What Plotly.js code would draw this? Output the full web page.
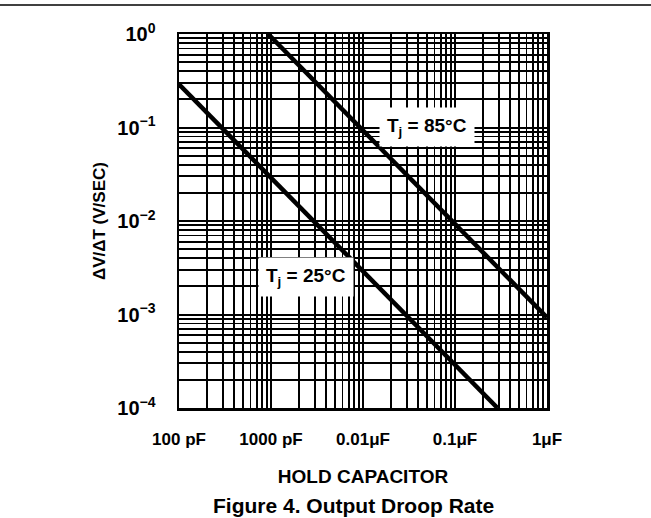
<!DOCTYPE html>
<html>
<head>
<meta charset="utf-8">
<script src="https://cdn.plot.ly/plotly-3.0.1.min.js"></script>
<style>html,body{margin:0;padding:0;background:#fff;}#chart{width:651px;height:518px;}</style>
</head>
<body>
<div id="chart"></div>
<script>
// Hold capacitor (F) and droop rate (V/s)
const cap25 = [1e-10, 2.9e-7];
const droop25 = [0.29, 1e-4];
const cap85 = [9.3e-10, 1e-6];
const droop85 = [1, 9.3e-4];

const xTickVals = [1e-10, 1e-9, 1e-8, 1e-7, 1e-6];
const xTickText = ['100 pF', '1000 pF', '0.01\u03BCF', '0.1\u03BCF', '1\u03BCF'];
const yTickVals = [1e-4, 1e-3, 1e-2, 1e-1, 1];
const yTickText = ['10<sup>\u22124</sup>', '10<sup>\u22123</sup>', '10<sup>\u22122</sup>', '10<sup>\u22121</sup>', '10<sup>0</sup>'];

const labels = [
  {text: 'T<sub>j</sub> = 25\u00B0C', x: 2.4e-9, y: 2.5e-3},
  {text: 'T<sub>j</sub> = 85\u00B0C', x: 5.0e-8, y: 0.102}
];

const FONT = '"Liberation Sans", Arial, sans-serif';

const traces = [
  {x: cap25, y: droop25, mode: 'lines', line: {color: '#000', width: 4.5}, hoverinfo: 'skip', showlegend: false},
  {x: cap85, y: droop85, mode: 'lines', line: {color: '#000', width: 4.5}, hoverinfo: 'skip', showlegend: false}
];

const axisCommon = {
  type: 'log',
  showline: true, mirror: true, linecolor: '#000', linewidth: 2.5,
  showgrid: true, gridcolor: '#000', gridwidth: 2,
  minor: {showgrid: true, dtick: 'D1', gridcolor: '#000', gridwidth: 1.8, ticks: ''},
  ticks: '', zeroline: false,
  tickfont: {family: FONT, size: 17, color: '#000', weight: 'bold'}
};

const layout = {
  width: 651, height: 518,
  margin: {l: 179, r: 104, t: 34, b: 110},
  paper_bgcolor: '#fff', plot_bgcolor: '#fff',
  showlegend: false,
  xaxis: Object.assign({}, axisCommon, {
    range: [-10, -6], tickmode: 'array', tickvals: xTickVals, ticktext: xTickText,
    ticklabelstandoff: 14,
    title: {text: 'HOLD CAPACITOR', font: {family: FONT, size: 19, color: '#000', weight: 'bold'}, standoff: 22}
  }),
  yaxis: Object.assign({}, axisCommon, {
    range: [-4, 0], tickmode: 'array', tickvals: yTickVals, ticktext: yTickText,
    ticklabelstandoff: 17,
    tickfont: {family: FONT, size: 20, color: '#000', weight: 'bold'},
    title: {text: '\u0394V/\u0394T (V/SEC)', font: {family: FONT, size: 17, color: '#000', weight: 'bold'}, standoff: 8}
  }),
  annotations: labels.map(l => ({
    text: l.text, x: Math.log10(l.x), y: Math.log10(l.y), xref: 'x', yref: 'y',
    showarrow: false, bgcolor: '#fff', borderpad: 7,
    font: {family: FONT, size: 19, color: '#000', weight: 'bold'}
  })).concat([{
    text: 'Figure 4. Output Droop Rate', xref: 'paper', yref: 'paper',
    x: 0.4755, y: -0.262, yanchor: 'middle', showarrow: false,
    font: {family: FONT, size: 21, color: '#000', weight: 'bold'}
  }]),
  shapes: [{
    type: 'line', xref: 'paper', yref: 'paper',
    x0: -0.49, x1: 1.29, y0: 1.0775, y1: 1.0775,
    line: {color: '#000', width: 1.5}
  }]
};

Plotly.newPlot('chart', traces, layout, {displayModeBar: false, staticPlot: true});
</script>
</body>
</html>
